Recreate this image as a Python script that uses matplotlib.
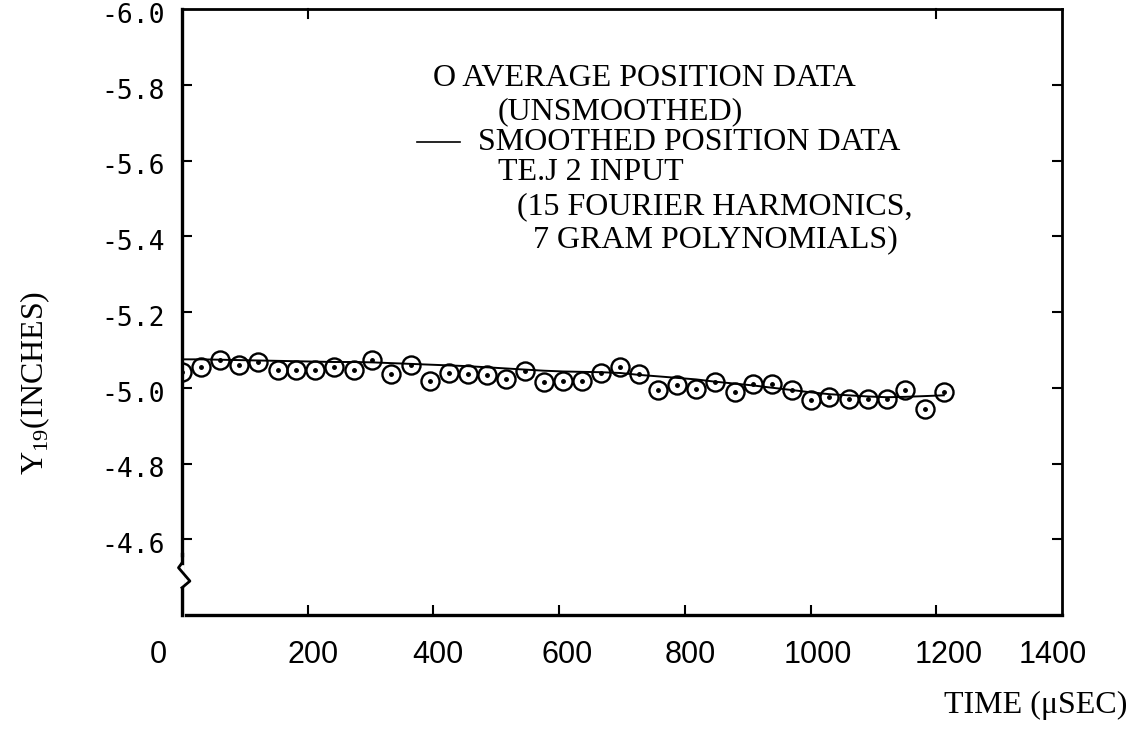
import matplotlib
matplotlib.use('Agg')
import matplotlib.pyplot as plt

# sample times (usec) and average position (unsmoothed)
time_us = [0, 30, 61, 91, 121, 152, 182, 212, 242, 273, 303, 333, 364, 394, 424,
           455, 485, 515, 545, 576, 606, 636, 667, 697, 727, 758, 788, 818, 848,
           879, 909, 939, 970, 1000, 1030, 1061, 1091, 1121, 1151, 1182, 1212]
avg_pos = [-5.041, -5.055, -5.072, -5.059, -5.069, -5.046, -5.048, -5.046, -5.055,
           -5.048, -5.072, -5.037, -5.059, -5.019, -5.039, -5.035, -5.033, -5.022,
           -5.044, -5.015, -5.018, -5.018, -5.040, -5.055, -5.037, -4.993, -5.006,
           -4.996, -5.015, -4.989, -5.011, -5.011, -4.993, -4.967, -4.975, -4.969,
           -4.971, -4.971, -4.995, -4.945, -4.989]
# smoothed curve (TEJ 2 input)
smooth_pos = [-5.075, -5.075, -5.074, -5.073, -5.072, -5.071, -5.070, -5.069, -5.068,
              -5.068, -5.067, -5.065, -5.063, -5.061, -5.059, -5.057, -5.054, -5.051,
              -5.048, -5.045, -5.043, -5.042, -5.041, -5.039, -5.034, -5.030, -5.026,
              -5.022, -5.016, -5.011, -5.006, -5.000, -4.994, -4.988, -4.983, -4.980,
              -4.977, -4.975, -4.976, -4.978, -4.980]

x_ticks = [200, 400, 600, 800, 1000, 1200]
x_labels = ['0', '200', '400', '600', '800', '1000', '1200', '1400']
x_label_pos = [-38, 208, 407, 612, 808, 1012, 1219, 1386]
y_ticks = [-5.8, -5.6, -5.4, -5.2, -5.0, -4.8, -4.6]
y_labels = ['-6.0', '-5.8', '-5.6', '-5.4', '-5.2', '-5.0', '-4.8', '-4.6']
y_label_pos = [-6.0, -5.8, -5.6, -5.4, -5.2, -5.0, -4.8, -4.6]

legend_lines = ['O AVERAGE POSITION DATA', '(UNSMOOTHED)', 'SMOOTHED POSITION DATA',
                'TE.J 2 INPUT', '(15 FOURIER HARMONICS,', '7 GRAM POLYNOMIALS)']

mono_sans = 'DejaVu Sans Mono'
typew = 'Liberation Serif'

W, H = 1133, 735
fig = plt.figure(figsize=(W / 100, H / 100), dpi=100)
ax = fig.add_axes([182 / W, 1 - 615 / H, 880 / W, 606 / H])

ax.plot(time_us, smooth_pos, color='black', lw=1.4, zorder=2)
ax.plot(time_us, avg_pos, 'o', ms=13, mfc='none', mec='black', mew=1.7, zorder=3)
ax.plot(time_us, avg_pos, 'o', ms=2.5, color='black', zorder=4)

ax.set_xlim(0, 1400)
ax.set_ylim(-4.4, -6.0)

for side in ['left', 'bottom']:
    ax.spines[side].set_linewidth(2.4)
for side in ['top', 'right']:
    ax.spines[side].set_linewidth(2.0)

ax.set_xticks(x_ticks)
ax.set_yticks(y_ticks)
ax.set_xticklabels([])
ax.set_yticklabels([])
ax.tick_params(axis='both', direction='in', length=7, width=1.5,
               right=True, top=False)

# two short ticks on the top edge
for xt in [200, 1200]:
    ax.plot([xt, xt], [1.0, 0.985], transform=ax.get_xaxis_transform(),
            color='black', lw=1.5, clip_on=False)

# axis break on the left spine
ax.plot([0, 0], [0.0, 0.09], transform=ax.transAxes, color='white', lw=4,
        clip_on=False, zorder=5)
ax.plot([0.0, -0.004, 0.009, 0.0], [0.086, 0.078, 0.056, 0.045],
        transform=ax.transAxes, color='black', lw=2.0, clip_on=False, zorder=6)
ax.plot([0, 0], [0.0, 0.045], transform=ax.transAxes, color='black', lw=2.4,
        clip_on=False, zorder=6)
ax.plot([0, 0], [0.086, 0.1], transform=ax.transAxes, color='black', lw=2.4,
        clip_on=False, zorder=6)

# typed tick labels
for lab, xp in zip(x_labels, x_label_pos):
    ax.text(xp, -0.066, lab, transform=ax.get_xaxis_transform(), ha='center',
            va='center', fontsize=22, family='Liberation Sans', clip_on=False)
for lab, yp in zip(y_labels, y_label_pos):
    ax.text(-0.019, yp + 0.018, lab, transform=ax.get_yaxis_transform(), ha='right',
            va='center', fontsize=19, family=mono_sans, clip_on=False)

fig.text(35 / W, 1 - 383 / H, r'Y$_{\mathregular{19}}$(INCHES)', rotation=90,
         ha='center', va='center', fontsize=23, family=typew)
fig.text(1127 / W, 1 - 705 / H, 'TIME (\u03bcSEC)', ha='right', va='center',
         fontsize=23, family=typew)

leg_x = [433, 498, 478, 498, 517, 533]
leg_y = [78, 112, 142, 172, 207, 240]
for txt, lx, ly in zip(legend_lines, leg_x, leg_y):
    fig.text(lx / W, 1 - ly / H, txt, ha='left', va='center', fontsize=23,
             family=typew)
fig.add_artist(plt.Line2D([417 / W, 460 / W], [1 - 142 / H, 1 - 142 / H],
                          color='black', lw=1.2))

fig.savefig('out.png', dpi=100)
